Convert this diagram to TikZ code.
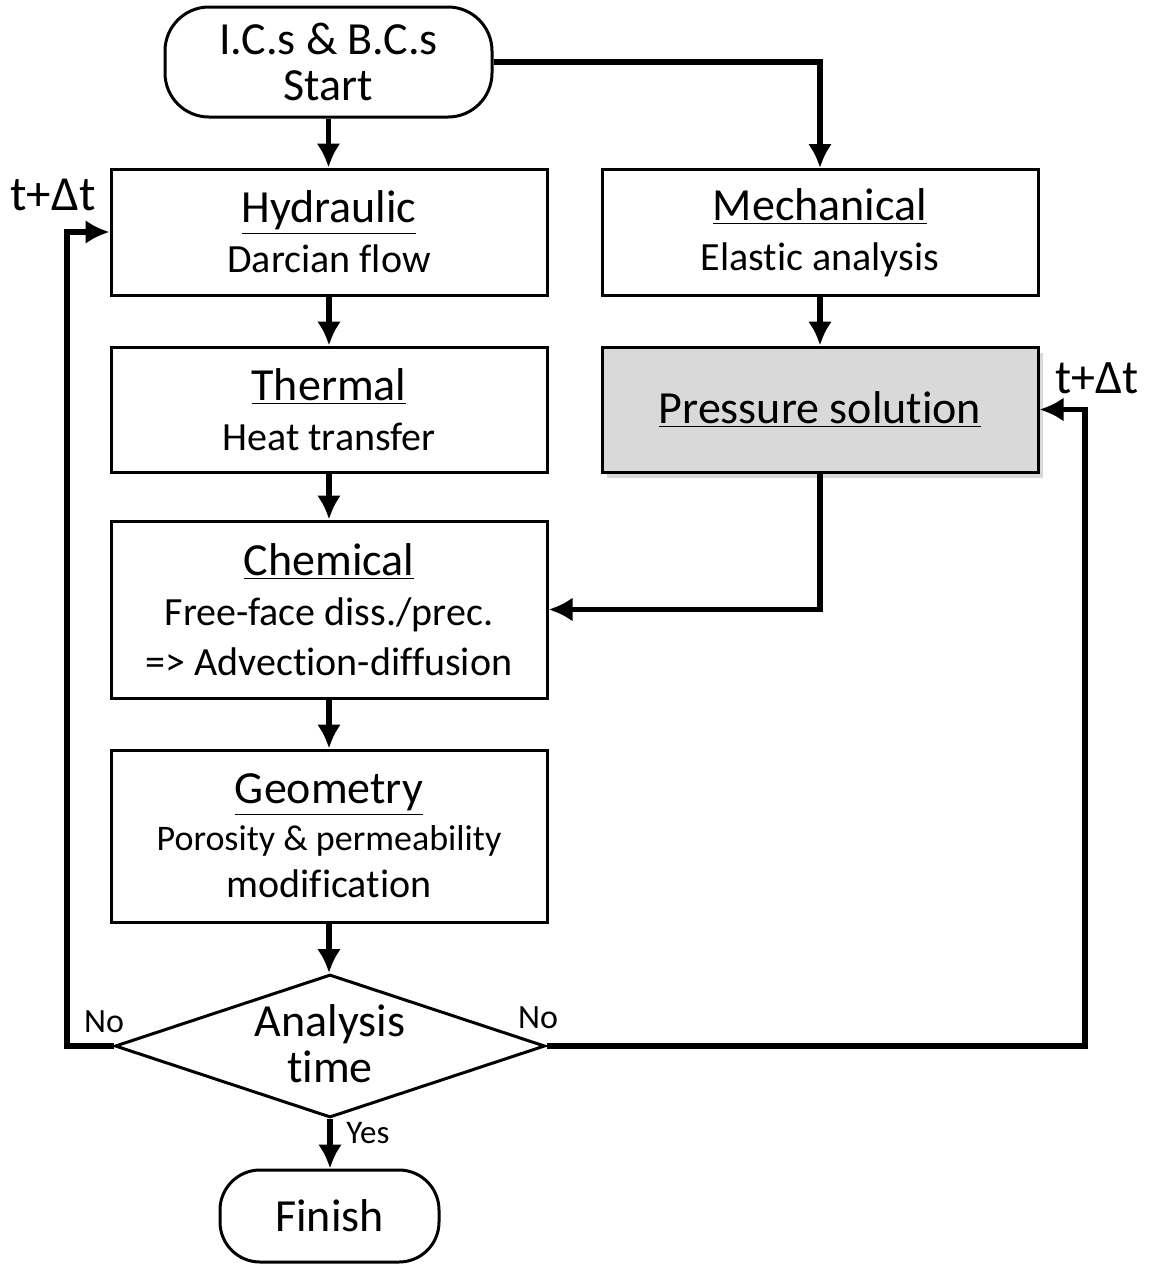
\documentclass[tikz,border=0pt]{standalone}
\usepackage{fontspec}
\setmainfont{Carlito}[Ligatures=NoCommon]
\usetikzlibrary{arrows.meta,shapes.geometric,shadows,calc}
\begin{document}
\begin{tikzpicture}[x=0.5pt,y=-0.5pt,
  box/.style={draw,line width=1.5pt,rectangle,minimum width=218pt,inner sep=0pt,align=center,
    font=\fontsize{20}{25}\selectfont},
  term/.style={draw,line width=1.5pt,rectangle,rounded corners=22pt,inner sep=0pt,align=center,
    font=\fontsize{23}{23}\selectfont},
  decision/.style={draw,line width=1.5pt,diamond,minimum width=215pt,minimum height=71.5pt,inner sep=0pt},
  conn/.style={line width=2.7pt,-{Latex[length=12pt,width=12pt]}},
  big/.style={font=\fontsize{23}{23}\selectfont},
  lbl/.style={inner sep=0pt}]
\useasboundingbox (0,0) rectangle (1149,1265);
% terminals
\node[term,minimum width=163.5pt,minimum height=55pt] (start) at (328.5,62)
  {I.C.s \& B.C.s\\Start};
\node[term,minimum width=109.5pt,minimum height=46pt,rounded corners=20pt] (finish) at (329.5,1216)
  {Finish};
% boxes
\node[box,minimum height=63pt] (hyd) at (329,232)
  {{\fontsize{23}{25}\selectfont\underline{Hydraulic}}\\Darcian flow};
\node[box,minimum height=63pt] (mech) at (820,232.5)
  {{\fontsize{23}{25}\selectfont\underline{Mechanical}}\\Elastic analysis};
\node[box,minimum height=62.5pt] (therm) at (329,409.5)
  {{\fontsize{23}{25}\selectfont\underline{Thermal}}\\Heat transfer};
\node[box,minimum height=62.5pt,fill=black!15,
  drop shadow={shadow xshift=2.5pt,shadow yshift=-3pt,opacity=0.3}] (press) at (820,409.5)
  {{\fontsize{23}{25}\selectfont\underline{Pressure solution}}};
\node[box,minimum height=88.5pt] (chem) at (329,609.5)
  {{\fontsize{23}{25}\selectfont\underline{Chemical}}\\Free-face diss./prec.\\=> Advection-diffusion};
\node[box,minimum height=86pt,font=\fontsize{20}{23.5}\selectfont] (geo) at (329,836)
  {{\fontsize{23}{25}\selectfont\underline{Geometry}}\\{\fontsize{18}{23}\selectfont Porosity \& permeability}\\modification};
\node[decision] (dec) at (330,1046) {};
\node[lbl,align=center,big] (dectext) at (330,1044)
  {Analysis\\time};
% connector coordinates
\coordinate (lft) at (67,1046);
\coordinate (rgt) at (1085,1046);
% connectors
\draw[conn] (start.south) -- (start.south |- hyd.north);
\draw[conn] (start.east) -| (mech.north);
\draw[conn] (hyd) -- (therm);
\draw[conn] (therm) -- (chem);
\draw[conn] (chem) -- (geo);
\draw[conn] (geo.south) -- (geo.south |- dec.north);
\draw[conn] (mech) -- (press);
\draw[conn] (press.south) |- (chem.east);
\draw[conn] (dec.west) -- (lft) |- (hyd.west);
\draw[conn] (dec.east) -- (rgt) |- (press.east);
\draw[conn] (dec.south) -- (dec.south |- finish.north);
% labels
\node[lbl,font=\fontsize{24.5}{25}\selectfont] (tl) at (53,195) {t+Δt};
\node[lbl,font=\fontsize{24}{25}\selectfont] (tr) at (1097,378) {t+Δt};
\node[lbl,font=\fontsize{17}{17}\selectfont] (nol) at (104,1022) {No};
\node[lbl,font=\fontsize{17}{17}\selectfont] (nor) at (538,1018) {No};
\node[lbl,font=\fontsize{16.5}{17}\selectfont] (yes) at (368,1133) {Yes};
\end{tikzpicture}
\end{document}
